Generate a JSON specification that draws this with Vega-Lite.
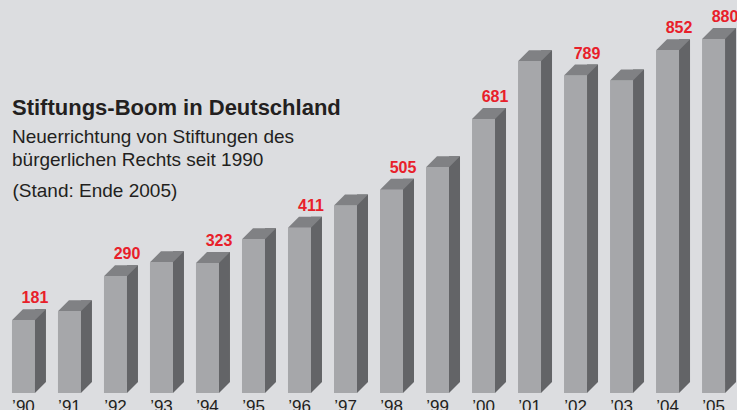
{
  "$schema": "https://vega.github.io/schema/vega-lite/v6.json",
  "width": 737,
  "height": 393,
  "padding": {"left": 0, "top": 0, "right": 0, "bottom": 17},
  "autosize": {"type": "none"},
  "background": "#dcdde0",
  "config": {"view": {"stroke": null}},
  "title": {
    "text": "Stiftungs-Boom in Deutschland",
    "subtitle": ["Neuerrichtung von Stiftungen des", "bürgerlichen Rechts seit 1990"],
    "anchor": "start",
    "frame": "group",
    "orient": "top",
    "offset": -170.5,
    "dx": 12,
    "font": "Liberation Sans",
    "fontSize": 22,
    "fontWeight": "bold",
    "color": "#231f20",
    "subtitleFont": "Liberation Sans",
    "subtitleFontSize": 19,
    "subtitleColor": "#231f20",
    "subtitleLineHeight": 23,
    "subtitlePadding": 7.2
  },
  "data": {
    "values": [
      {"year": 1990, "n": 181},
      {"year": 1991, "n": 203},
      {"year": 1992, "n": 290},
      {"year": 1993, "n": 325},
      {"year": 1994, "n": 323},
      {"year": 1995, "n": 382},
      {"year": 1996, "n": 411},
      {"year": 1997, "n": 466},
      {"year": 1998, "n": 505},
      {"year": 1999, "n": 561},
      {"year": 2000, "n": 681},
      {"year": 2001, "n": 825},
      {"year": 2002, "n": 789},
      {"year": 2003, "n": 777},
      {"year": 2004, "n": 852},
      {"year": 2005, "n": 880}
    ]
  },
  "encoding": {
    "x": {
      "field": "year",
      "type": "ordinal",
      "scale": {"paddingInner": 0, "paddingOuter": 0.01},
      "axis": {
        "title": "(Stand: Ende 2005)",
        "titleX": 12,
        "titleY": -197,
        "titleAngle": 0,
        "titleAlign": "left",
        "titleBaseline": "alphabetic",
        "titleFont": "Liberation Sans",
        "titleFontSize": 19,
        "titleFontWeight": "normal",
        "titleColor": "#231f20",
        "domain": false,
        "ticks": false,
        "tickSize": 0,
        "grid": false,
        "labelPadding": 5,
        "labelFont": "Liberation Sans",
        "labelFontSize": 17,
        "labelColor": "#231f20",
        "labelAngle": 0,
        "labelBaseline": "top",
        "labelExpr": "'’' + substring(datum.label, 2)"
      }
    },
    "y": {
      "field": "n",
      "type": "quantitative",
      "scale": {"domain": [0, 977]},
      "axis": null
    }
  },
  "layer": [
    {
      "mark": {"type": "bar", "width": 23, "color": "#a6a7aa"}
    },
    {
      "mark": {"type": "bar", "width": 11, "xOffset": 17, "yOffset": -11, "y2Offset": -11, "color": "#636467"}
    },
    {
      "mark": {"type": "point", "shape": "M-1,0.3235L0.3529,0.3235L1,-0.3235L-0.3529,-0.3235Z", "size": 1156, "filled": true, "opacity": 1, "color": "#808184", "strokeWidth": 0, "xOffset": 5.5, "yOffset": -5.5}
    },
    {
      "mark": {"type": "point", "shape": "M-1,-1L-1,1L1,-1Z", "size": 121, "filled": true, "opacity": 1, "color": "#636467", "strokeWidth": 0, "xOffset": 17, "yOffset": -5.5},
      "encoding": {"y": {"datum": 0, "axis": null}}
    },
    {
      "transform": [{"filter": {"field": "year", "oneOf": [1990, 1992, 1994, 1996, 1998, 2000, 2002, 2004, 2005]}}],
      "mark": {"type": "text", "dx": 11.5, "dy": -17, "align": "center", "baseline": "alphabetic", "font": "Liberation Sans", "fontSize": 16, "fontWeight": "bold", "color": "#e8202a"},
      "encoding": {
        "text": {"field": "n", "type": "quantitative"}
      }
    }
  ]
}
